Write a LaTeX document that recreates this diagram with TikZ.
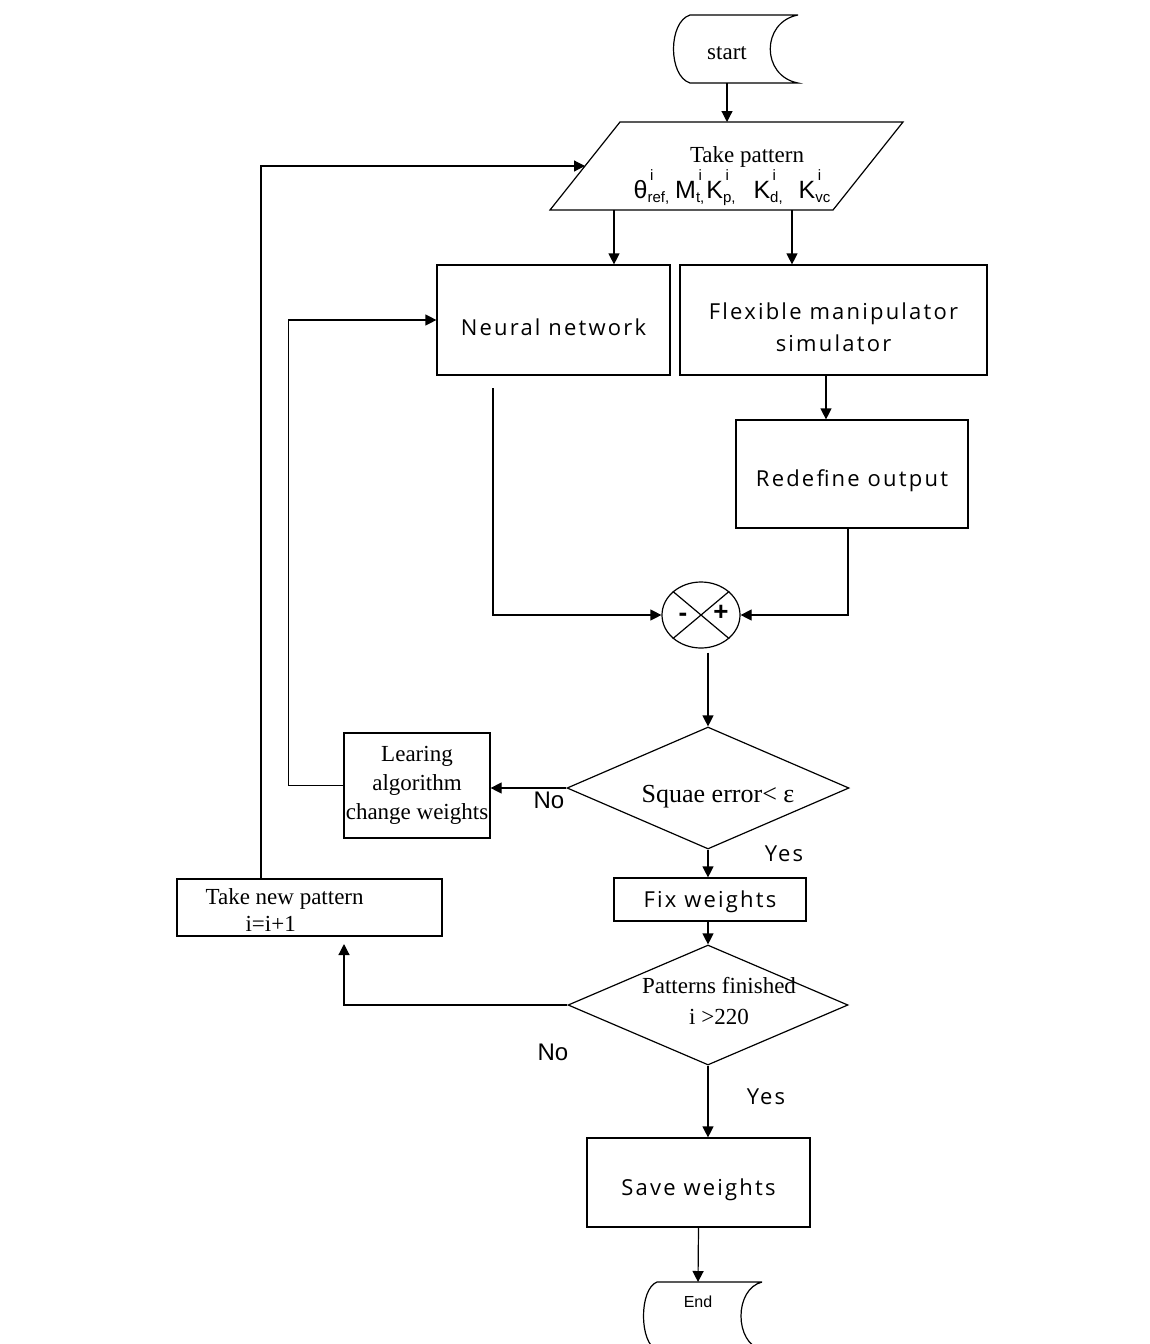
\documentclass[tikz,border=0pt]{standalone}
\usepackage{fontspec}
\setmainfont{Liberation Serif}
\newfontfamily\osans[LetterSpace=10]{Open Sans}
\newfontfamily\arialf{Liberation Sans}
\usetikzlibrary{arrows.meta,shapes.geometric,calc}
\newcommand\mysc[1]{\hbox{\fontsize{7.5}{8}\selectfont #1}}
\newcommand\vv[3]{#1\rlap{\raisebox{9pt}{\mysc{\,#2}}}\raisebox{-2pt}{\mysc{#3}}}
\newcommand\dn[1]{\raisebox{-3.5pt}[\height][\depth]{#1}}
\begin{document}
\begin{tikzpicture}[x=0.5pt,y=-0.5pt, line width=0.6pt,
  arr/.style={-{Triangle[length=5.5pt,width=5.5pt]}},
  box/.style={draw, rectangle, inner sep=0pt, align=center},
  ser/.style={font=\fontsize{11.5}{14.5}\selectfont, inner sep=0pt, align=center},
  sans/.style={font=\osans\fontsize{11}{16}\selectfont},
  arl/.style={font=\arialf\fontsize{12}{12}\selectfont, inner sep=0pt},
  dia/.style={draw, diamond, inner sep=0pt}
]
\useasboundingbox (0,0) rectangle (1150,1344);
\clip (0,0) rectangle (1150,1344);

% start terminal
\coordinate (sB) at (727,83);
\draw (798,15) -- (690,15) .. controls (668,22) and (668,76) .. (690,83) -- (798,83) .. controls (761,76) and (761,22) .. (798,15);
\node[ser] (start) at (727,53) {start};

% take pattern parallelogram
\coordinate (pTL) at (620,122);
\coordinate (pTR) at (903,122);
\coordinate (pBR) at (833,210);
\coordinate (pBL) at (550,210);
\coordinate (pL) at (585,166);
\coordinate (pb1) at (614,210);
\coordinate (pb2) at (792,210);
\draw (pTL) -- (pTR) -- (pBR) -- (pBL) -- cycle;
\node[ser] (tp) at (747,157) {Take pattern};
\node[font=\arialf\fontsize{12.5}{14}\selectfont, inner sep=0pt, anchor=base west] (tpv) at (633,198)
  {\vv{θ}{i}{ref,}\hspace{3pt}\vv{M}{i}{t,}\kern1pt\vv{K}{i}{p,}\hspace{9pt}\vv{K}{i}{d,}\hspace{8pt}\vv{K}{i}{vc}};

% boxes
\node[box, sans, minimum width=116.5pt, minimum height=55pt] (nn) at (553.5,320) {\dn{Neural network}};
\node[box, sans, minimum width=153.5pt, minimum height=55pt] (flex) at (833.5,320) {\dn{Flexible manipulator}\\\dn{simulator}};
\node[box, sans, minimum width=116pt, minimum height=54pt] (redef) at (852,474) {\dn{Redefine output}};

% summing junction
\node[draw, ellipse, inner sep=0pt, minimum width=39pt, minimum height=33pt] (sum) at (701,615) {};
\draw (sum.40) -- (sum.220);
\draw (sum.140) -- (sum.-40);
\node[font=\arialf\bfseries\fontsize{13}{13}\selectfont, inner sep=0pt] (minus) at (683,617) {-};
\node[font=\arialf\bfseries\fontsize{13}{13}\selectfont, inner sep=0pt] (plus) at (721,613) {+};

% decision 1
\node[dia, minimum width=141pt, minimum height=61pt] (d1) at (708,788) {};
\node[ser, font=\fontsize{13}{15}\selectfont] (d1t) at (718,797) {Squae error< ε};
\node[box, ser, minimum width=73pt, minimum height=52.5pt] (learn) at (417,785.5) {Learing\\algorithm\\change weights};

% fix weights
\node[box, sans, minimum width=96pt, minimum height=21.5pt] (fix) at (710,899.5) {\raisebox{-1pt}[\height][\depth]{Fix weights}};

% take new pattern
\node[box, minimum width=132.5pt, minimum height=28.5pt] (newp) at (309.5,907.5) {};
\node[ser, align=left, anchor=west, font=\fontsize{11.5}{13.5}\selectfont] (newpt) at (205,910) {Take new pattern\\\hspace*{20pt}i=i+1};

% decision 2
\node[dia, minimum width=140pt, minimum height=60pt] (d2) at (708,1005) {};
\node[ser, font=\fontsize{11.5}{15.5}\selectfont] (d2t) at (719,1001) {Patterns finished\\i >220};

% save weights
\node[box, sans, minimum width=111.5pt, minimum height=44.5pt] (save) at (698.5,1182.5) {\dn{Save weights}};

% end terminal
\coordinate (eT) at (698,1282);
\draw (762,1282) -- (657,1282) .. controls (639,1289) and (639,1343) .. (657,1350) -- (762,1350) .. controls (734,1343) and (734,1289) .. (762,1282);
\node[font=\arialf\fontsize{8}{8}\selectfont, inner sep=0pt] (endt) at (698,1302) {End};

% labels
\node[sans, inner sep=0pt] (yes1) at (784,854) {Yes};
\node[sans, inner sep=0pt] (yes2) at (766,1097) {Yes};
\node[arl] (no1) at (549,800) {No};
\node[arl] (no2) at (553,1052) {No};

% connectors
\coordinate (fr) at (826,0);
\coordinate (nnout) at (493,388);
\coordinate (rdx) at (848,528);
\coordinate (nx) at (344,936);
\coordinate (nt) at (261,879);
\draw[arr] (sB) -- (sB |- pTL);
\draw[arr] (pb1) -- (pb1 |- nn.north);
\draw[arr] (pb2) -- (pb2 |- flex.north);
\draw[arr] (fr |- flex.south) -- (fr |- redef.north);
\draw[arr] (nnout) |- (sum.west);
\draw[arr] (rdx) |- (sum.east);
\draw[arr, shorten <=2pt] (d1.north |- sum.south) -- (d1.north);
\draw[arr] (d1.west) -- (learn.east |- d1.west);
\draw[arr] (learn.west) -- ++(-55,0) |- (nn.west);
\draw[arr] (d1.south) -- (d1.south |- fix.north);
\draw[arr] (d2.north |- fix.south) -- (d2.north);
\draw[arr, shorten >=4pt] (d2.west) -| (nx);
\draw[arr] (nt) |- (pL);
\draw[arr] (d2.south) -- (d2.south |- save.north);
\draw[arr] (save.south) -- (eT);
\end{tikzpicture}
\end{document}
